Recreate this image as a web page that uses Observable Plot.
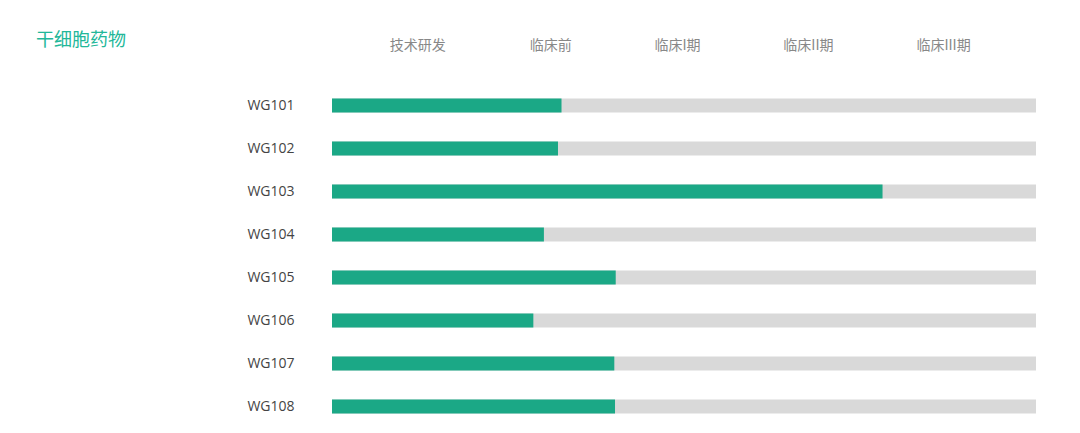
<!DOCTYPE html>
<html>
<head>
<meta charset="utf-8">
<script src="https://cdn.jsdelivr.net/npm/d3@7"></script>
<script src="https://cdn.jsdelivr.net/npm/@observablehq/plot@0.6"></script>
<style>
  html, body { margin: 0; padding: 0; background: #fff; }
  #wrap { position: relative; width: 1080px; height: 433px; }
  #title { position: absolute; left: 36px; top: 25px; font-family: "Noto Sans CJK SC", sans-serif; font-size: 18px; color: #22b799; line-height: 26px; }
  #chart { position: absolute; left: 0; top: 0; }
  .ylab text { font-family: "Open Sans", "Noto Sans CJK SC", sans-serif; }
</style>
</head>
<body>
<div id="wrap">
  <div id="title">干细胞药物</div>
  <div id="chart"></div>
</div>
<script>
// Data
const products = ["WG101", "WG102", "WG103", "WG104", "WG105", "WG106", "WG107", "WG108"];
const progress = [32.6, 32.1, 78.2, 30.1, 40.3, 28.6, 40.1, 40.2];
const stages = ["技术研发", "临床前", "临床I期", "临床II期", "临床III期"];
const stagePositions = [12.1, 31.0, 49.0, 67.6, 86.8];
const fullScale = 100;

const rows = products.map((p, i) => ({product: p, value: progress[i], full: fullScale}));

const chart = Plot.plot({
  width: 1080,
  height: 433,
  marginLeft: 332,
  marginRight: 44,
  marginTop: 83,
  marginBottom: 4,
  style: {fontFamily: "'Noto Sans CJK SC', sans-serif", background: "transparent"},
  x: {domain: [0, fullScale], axis: null},
  y: {domain: products, padding: 0, axis: null},
  marks: [
    Plot.barX(rows, {x1: 0, x2: "full", y: "product", fill: "#d9d9d9", insetTop: 14.5, insetBottom: 14.5}),
    Plot.barX(rows, {x1: 0, x2: "value", y: "product", fill: "#1ba886", insetTop: 14.5, insetBottom: 14.5}),
    Plot.axisY({anchor: "left", tickSize: 0, tickPadding: 38, fontSize: 14, color: "#444", label: null, className: "ylab"}),
    Plot.axisX(stagePositions, {anchor: "top", tickSize: 0, tickPadding: 34, fontSize: 14, color: "#888",
      tickFormat: (d) => stages[stagePositions.indexOf(d)], label: null})
  ]
});
document.getElementById("chart").appendChild(chart);
</script>
</body>
</html>
